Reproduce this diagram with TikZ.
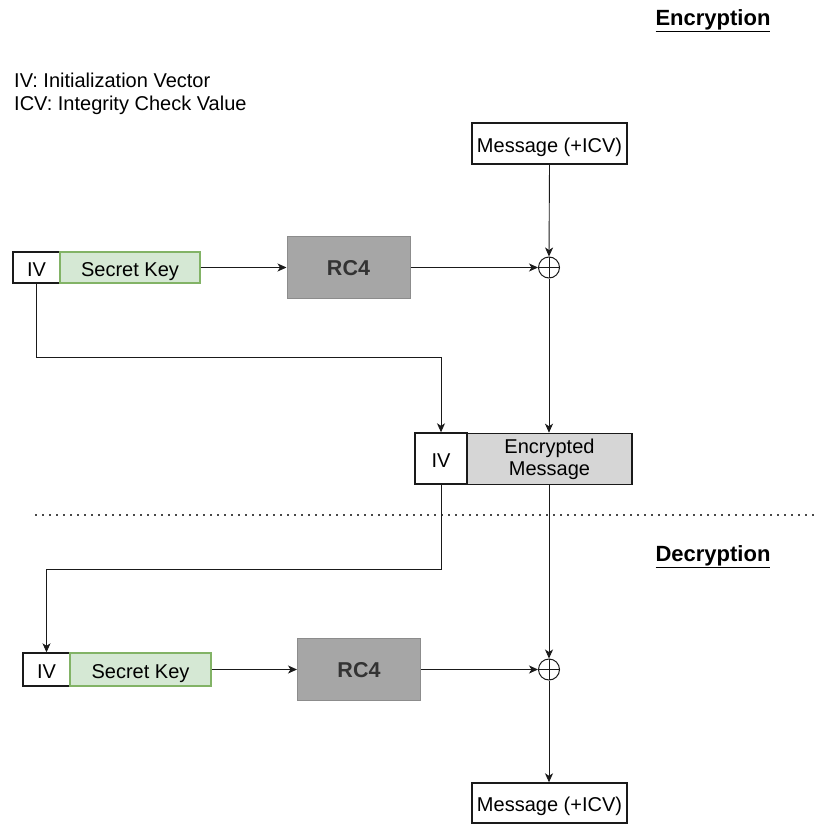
\documentclass[tikz,border=0pt]{standalone}
\usepackage{fontspec}
\setmainfont{Liberation Sans}
\usetikzlibrary{arrows.meta}
\definecolor{keyfill}{HTML}{D5E8D4}
\definecolor{keyline}{HTML}{82B366}
\definecolor{rcfill}{HTML}{A6A6A6}
\definecolor{rcline}{HTML}{8C8C8C}
\definecolor{rctext}{HTML}{333333}
\definecolor{encfill}{HTML}{D6D6D6}
\definecolor{ink}{HTML}{1A1A1A}
\tikzset{
  txt/.style={font=\fontsize{20}{23}\selectfont},
  boxtext/.style={txt, text height=17pt, text depth=0pt},
  box/.style={draw=ink, line width=1.4pt, fill=white, inner sep=0pt, boxtext},
  keybox/.style={draw=keyline, line width=1.4pt, fill=keyfill, inner sep=0pt, boxtext},
  rcbox/.style={draw=rcline, line width=1pt, fill=rcfill, inner sep=0pt,
    text=rctext, font=\fontsize{21.5}{24}\selectfont\bfseries,
    text height=15.5pt, text depth=0pt,
    minimum width=123pt, minimum height=62pt},
  encbox/.style={draw=ink, line width=1.6pt, fill=encfill, inner sep=0pt, txt, align=center},
  xorsym/.style={circle, draw=ink, line width=1pt, minimum size=21pt, inner sep=0pt,
    path picture={\draw[ink, line width=1pt]
      (path picture bounding box.north) -- (path picture bounding box.south)
      (path picture bounding box.west) -- (path picture bounding box.east);}},
  conn/.style={draw=ink, line width=0.9pt},
  arr/.style={conn, -{Stealth[length=9pt, width=8pt, inset=2.5pt]}},
  heading/.style={font=\fontsize{22}{26}\selectfont\bfseries}
}
\begin{document}
\begin{tikzpicture}[x=1pt, y=-1pt]
  \useasboundingbox (0,0) rectangle (817,835);

  % headings and legend
  \node[heading] (enchead) at (713,21) {\underline{Encryption}};
  \node[heading] (dechead) at (713,557) {\underline{Decryption}};
  \node[txt, anchor=west, inner sep=0pt] (legiv) at (14,80) {IV: Initialization Vector};
  \node[txt, anchor=west, inner sep=0pt] (legicv) at (14,105) {ICV: Integrity Check Value};

  % encryption
  \node[box, minimum width=155pt, minimum height=41pt] (msgA) at (549.5,143.5) {Message (+ICV)};
  \node[box, minimum width=47pt, minimum height=31pt] (ivA) at (36.5,267.5) {IV};
  \node[keybox, minimum width=140pt, minimum height=31pt] (keyA) at (130,267.5) {Secret Key};
  \node[rcbox] (rcA) at (348.5,267.5) {RC4};
  \node[xorsym] (xorA) at (549,267.5) {};

  \node[box, minimum width=52pt, minimum height=51pt] (ivE) at (441,458.5) {IV};
  \node[encbox, minimum width=165pt, minimum height=51pt] (encM) at (549.5,459) {Encrypted\\[-1pt]Message};

  \draw[arr] (keyA.east) -- (rcA.west);
  \draw[arr] (rcA.east) -- (xorA.west);
  \draw[arr] (msgA.south) -- (xorA.north);
  \draw[arr] (xorA.south) -- (encM.north -| xorA.south);
  \draw[arr] (ivA.south) -- (ivA.south |- 0,357) -| (ivE.north);

  % separator
  \coordinate (sepL) at (35,515);
  \coordinate (sepR) at (817,515);
  \draw[ink!80, line width=1.2pt, dash pattern=on 1.5pt off 5.5pt] (sepL) -- (sepR);

  % decryption
  \node[box, minimum width=47pt, minimum height=33pt] (ivB) at (46.5,669.5) {IV};
  \node[keybox, minimum width=141pt, minimum height=33pt] (keyB) at (140.5,669.5) {Secret Key};
  \node[rcbox] (rcB) at (359,669.5) {RC4};
  \node[xorsym] (xorB) at (549,669.5) {};
  \node[box, minimum width=155pt, minimum height=40pt] (msgB) at (549.5,803) {Message (+ICV)};

  \draw[arr] (ivE.south) -- (ivE.south |- 0,569) -| (ivB.north);
  \draw[arr] (encM.south -| xorB.north) -- (xorB.north);
  \draw[arr] (keyB.east) -- (rcB.west);
  \draw[arr] (rcB.east) -- (xorB.west);
  \draw[arr] (xorB.south) -- (msgB.north -| xorB.south);
\end{tikzpicture}
\end{document}
